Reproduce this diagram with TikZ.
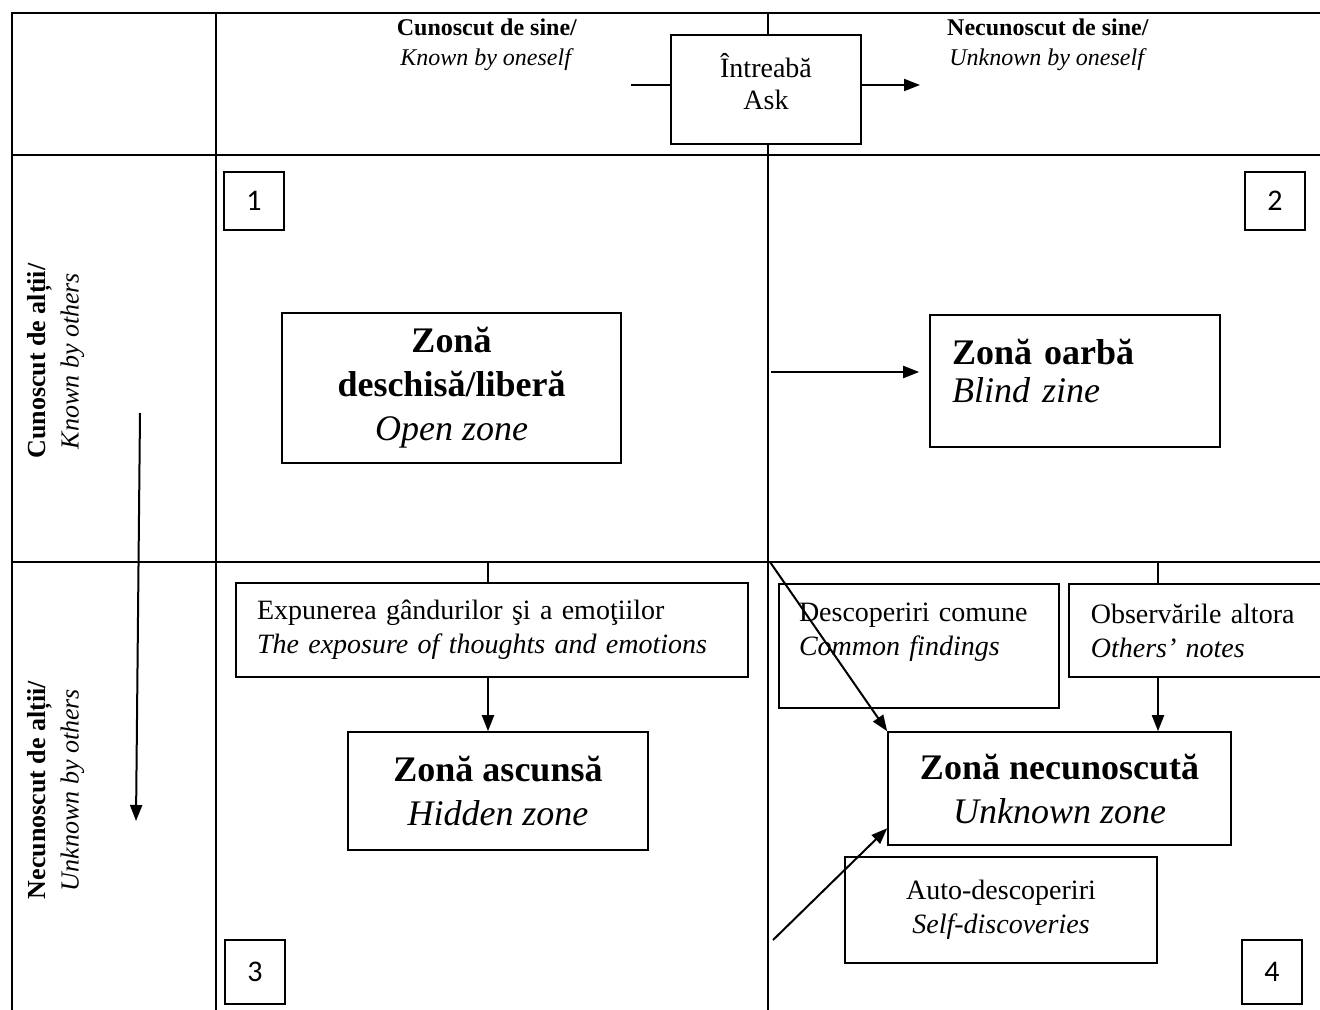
\documentclass[tikz,border=0pt]{standalone}
\usepackage{fontspec}
\setmainfont{Liberation Serif}
\newfontfamily\numfont{Carlito}
\usetikzlibrary{arrows.meta, positioning}

\begin{document}
\begin{tikzpicture}[x=0.5pt, y=-0.5pt, >={Triangle[length=8pt,width=6pt]}, line width=1pt,
  hdr/.style={align=center, font=\fontsize{12}{15}\selectfont},
  side/.style={align=center, rotate=90, font=\fontsize{13}{16.5}\selectfont},
  numbox/.style={draw, line width=0.8pt, font=\numfont\fontsize{15}{17}\selectfont, minimum width=30pt, minimum height=29pt, inner sep=0pt},
  zone/.style={draw, fill=white, line width=0.8pt, align=center, inner sep=0pt, font=\fontsize{18}{22}\selectfont},
  note/.style={draw, fill=white, line width=0.8pt, align=left, inner ysep=0pt, inner xsep=10.5pt, font=\fontsize{14}{17}\selectfont}]
\useasboundingbox (0,0) rectangle (1320,1010);
\clip (0,0) rectangle (1320,1010);

% grid
\draw (12,1010) -- (12,13) -- (1320,13);
\draw (216,13) -- (216,1010);
\draw (768,13) -- (768,1010);
\draw (12,155) -- (1320,155);
\draw (12,562) -- (1320,562);

% headers
\node[hdr] (ks) at (487,45) {\textbf{Cunoscut de sine/}\\ \textit{Known by oneself}};
\node[hdr] (us) at (1048,45) {\textbf{Necunoscut de sine/}\\ \textit{Unknown by oneself}};
\node[side] (ko) at (56,361) {\textbf{Cunoscut de alții/}\\ \textit{Known by others}};
\node[side] (uo) at (56,790) {\textbf{Necunoscut de alții/}\\ \textit{Unknown by others}};

% ask
\node[zone, font=\fontsize{14}{16}\selectfont, minimum width=95pt, minimum height=54.5pt] (ask) at (766,89.5) {Întreabă\\Ask\\[-8pt]\mbox{}};
\coordinate (al) at (631,85);
\coordinate (ar) at (920,85);

% numbers
\node[numbox] (n1) at (254,201) {1};
\node[numbox] (n2) at (1275,201) {2};
\node[numbox, minimum height=32pt] (n3) at (255,972) {3};
\node[numbox, minimum height=32pt] (n4) at (1272,972) {4};

% zones
\node[zone, minimum width=169.5pt, minimum height=75pt] (open) at (451.5,388) {\textbf{Zonă}\\ \textbf{deschisă/liberă}\\ \textit{Open zone}};
\node[zone, align=left, text width=123pt, inner xsep=11pt, minimum height=66pt, font=\fontsize{18}{19}\selectfont] (blind) at (1075,381) {\textbf{Zonă oarbă}\\ \textit{Blind zine}\\[-9pt]\mbox{}};
\node[zone, minimum width=150pt, minimum height=59pt] (hid) at (498,791) {\textbf{Zonă ascunsă}\\ \textit{Hidden zone}};
\node[zone, minimum width=171.5pt, minimum height=56.5pt] (unk) at (1059.5,788.5) {\textbf{Zonă necunoscută}\\ \textit{Unknown zone}};

% notes
\node[note, text width=235pt, minimum height=47pt] (exp) at (492,630) {Expunerea gândurilor şi a emoţiilor\\ \textit{The exposure of thoughts and emotions}};
\node[note, text width=120pt, inner xsep=10pt, minimum height=62pt] (dc) at (919,646) {Descoperiri comune\\ \textit{Common findings}\\ \mbox{}};
\node[note, text width=130pt, inner xsep=11pt, minimum height=46.5pt, anchor=west] (obs) at (1068,630.5) {Observările altora\\ \textit{Others’ notes}};
\node[note, align=center, text width=134pt, inner xsep=11pt, minimum height=53pt] (auto) at (1001,910) {Auto-descoperiri\\ \textit{Self-discoveries}};

% connectors
\draw (al) -- (al -| ask.west);
\draw[->] (ar -| ask.east) -- (ar);
\coordinate (lt) at (488,562);
\coordinate (rt) at (1158,562);
\draw (lt) -- (lt |- exp.north);
\draw[->] (lt |- exp.south) -- (lt |- hid.north);
\draw (rt) -- (rt |- obs.north);
\draw[->] (rt |- obs.south) -- (rt |- unk.north);
\coordinate (ob) at (771,372);
\draw[->, shorten >=5pt] (ob) -- (ob -| blind.west);
\coordinate (dg) at (770,562);
\draw[->] (dg) -- (unk.north west);
\coordinate (sd) at (773,940);
\draw[->] (sd) -- (unk.193);
\coordinate (vt) at (140,413);
\coordinate (vb) at (136,821);
\draw[->] (vt) -- (vb);
\end{tikzpicture}
\end{document}
